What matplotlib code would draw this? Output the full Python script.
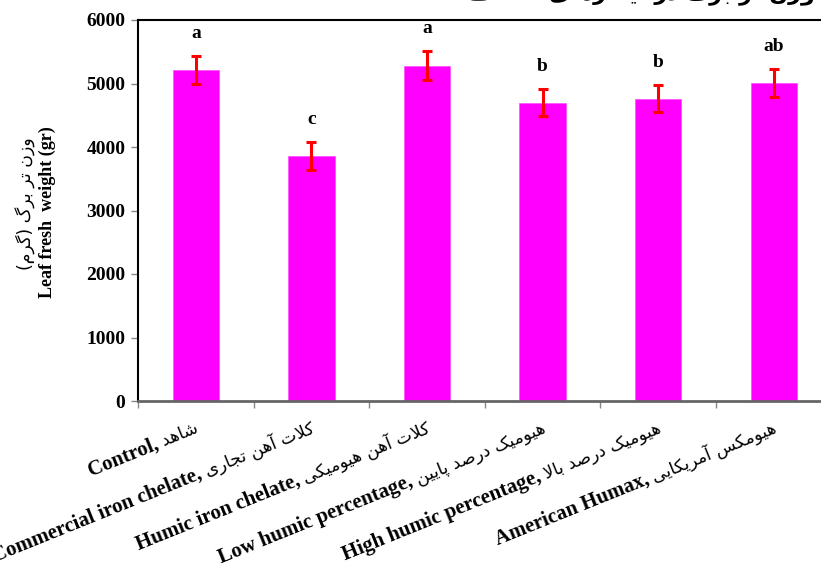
import math
import matplotlib
matplotlib.use("Agg")
import matplotlib.pyplot as plt

# treatments, mean leaf fresh weight (gr), standard error and Duncan letters
labels_en = ["Control,", "Commercial iron chelate,", "Humic iron chelate,",
             "Low humic percentage,", "High humic percentage,", "American Humax,"]
labels_fa = ["شاهد", "کلات آهن تجاری", "کلات آهن هیومیکی",
             "هیومیک درصد پایین", "هیومیک درصد بالا", "هیومکس آمریکایی"]
weights = [5210, 3860, 5280, 4700, 4760, 5010]
errors = [225, 215, 230, 215, 215, 225]
letters = ["a", "c", "a", "b", "b", "ab"]
yticks = [0, 1000, 2000, 3000, 4000, 5000, 6000]

ylabel_en = "Leaf fresh  weight (gr)"
ylabel_fa = "وزن تر برگ (گرم)"
title_fa = "وزن تر برگ در تیمارهای مختلف"

SERIF = ["Liberation Serif", "DejaVu Serif"]
FA_FONT = ["DejaVu Sans"]

# Persian letters -> (isolated, final, initial, medial) presentation forms
FORMS = {
    "ا": ("\uFE8D", "\uFE8E", None, None),
    "آ": ("\uFE81", "\uFE82", None, None),
    "ب": ("\uFE8F", "\uFE90", "\uFE91", "\uFE92"),
    "پ": ("\uFB56", "\uFB57", "\uFB58", "\uFB59"),
    "ت": ("\uFE95", "\uFE96", "\uFE97", "\uFE98"),
    "ج": ("\uFE9D", "\uFE9E", "\uFE9F", "\uFEA0"),
    "خ": ("\uFEA5", "\uFEA6", "\uFEA7", "\uFEA8"),
    "د": ("\uFEA9", "\uFEAA", None, None),
    "ر": ("\uFEAD", "\uFEAE", None, None),
    "ز": ("\uFEAF", "\uFEB0", None, None),
    "س": ("\uFEB1", "\uFEB2", "\uFEB3", "\uFEB4"),
    "ش": ("\uFEB5", "\uFEB6", "\uFEB7", "\uFEB8"),
    "ص": ("\uFEB9", "\uFEBA", "\uFEBB", "\uFEBC"),
    "ف": ("\uFED1", "\uFED2", "\uFED3", "\uFED4"),
    "ک": ("\uFB8E", "\uFB8F", "\uFB90", "\uFB91"),
    "گ": ("\uFB92", "\uFB93", "\uFB94", "\uFB95"),
    "ل": ("\uFEDD", "\uFEDE", "\uFEDF", "\uFEE0"),
    "م": ("\uFEE1", "\uFEE2", "\uFEE3", "\uFEE4"),
    "ن": ("\uFEE5", "\uFEE6", "\uFEE7", "\uFEE8"),
    "ه": ("\uFEE9", "\uFEEA", "\uFEEB", "\uFEEC"),
    "و": ("\uFEED", "\uFEEE", None, None),
    "ی": ("\uFBFC", "\uFBFD", "\uFBFE", "\uFBFF"),
}
LAM_ALEF = {"ا": ("\uFEFB", "\uFEFC"), "آ": ("\uFEF5", "\uFEF6")}
MIRROR = {"(": ")", ")": "("}


def shape_fa(text):
    """Join Persian letters and put them in visual (left-to-right) order."""
    def joins_next(c):
        return c in FORMS and FORMS[c][2] is not None

    out = []
    i = 0
    while i < len(text):
        c = text[i]
        if c not in FORMS:
            out.append(MIRROR.get(c, c))
            i += 1
            continue
        jp = i > 0 and joins_next(text[i - 1])
        if c == "ل" and i + 1 < len(text) and text[i + 1] in LAM_ALEF:
            out.append(LAM_ALEF[text[i + 1]][1 if jp else 0])
            i += 2
            continue
        jn = joins_next(c) and i + 1 < len(text) and text[i + 1] in FORMS
        iso, fin, ini, med = FORMS[c]
        out.append(med if jp and jn else ini if jn else fin if jp else iso)
        i += 1
    return "".join(reversed(out))


fig = plt.figure(figsize=(8.21, 5.69), dpi=100)
W, H = 821, 569
ax = fig.add_axes([138 / W, 168 / H, 693.6 / W, 381 / H])

x = list(range(len(weights)))
ax.bar(x, weights, width=0.4, color="#ff00ff", edgecolor="#ff55ff", linewidth=0.6, zorder=2)
ax.errorbar(x, weights, yerr=errors, fmt="none", ecolor="red",
            elinewidth=2.2, capsize=3.5, capthick=2.2, zorder=3)

for xi, w, e, let in zip(x, weights, errors, letters):
    ax.annotate(let, xy=(xi, w + e), xytext=(0, 13), textcoords="offset points",
                ha="center", va="baseline", fontsize=14, fontweight="bold",
                family=SERIF)

ax.set_xlim(-0.5, 5.5)
ax.set_ylim(0, 6000)
ax.set_yticks(yticks)
ax.set_yticklabels([str(v) for v in yticks], fontsize=14, fontweight="bold", family=SERIF)
ax.set_xticks([i - 0.5 for i in range(len(weights) + 1)])
ax.set_xticklabels([])
ax.tick_params(axis="both", direction="out", length=5, width=1, color="#888888", pad=4)

for side in ("top", "left", "right"):
    ax.spines[side].set_color("black")
    ax.spines[side].set_linewidth(1.5)
ax.spines["bottom"].set_color("#666666")
ax.spines["bottom"].set_linewidth(2)

# category labels: Persian part right-aligned at bar centre, English part before it
renderer = fig.canvas.get_renderer()
angle = 22
ca, sa = math.cos(math.radians(angle)), math.sin(math.radians(angle))
trans = ax.get_xaxis_transform()
for xi, en, fa in zip(x, labels_en, labels_fa):
    fa_vis = shape_fa(fa)
    dx, dy = 4, -31
    ax.annotate(fa_vis, xy=(xi, 0), xycoords=trans, xytext=(dx, dy),
                textcoords="offset pixels", rotation=angle, rotation_mode="anchor",
                ha="right", va="baseline", fontsize=12.5, family=FA_FONT,
                annotation_clip=False)
    probe = fig.text(0, 0, fa_vis, fontsize=12.5, family=FA_FONT)
    wfa = probe.get_window_extent(renderer).width
    probe.remove()
    L = wfa + 5
    ax.annotate(en, xy=(xi, 0), xycoords=trans, xytext=(dx - L * ca, dy - L * sa),
                textcoords="offset pixels", rotation=angle, rotation_mode="anchor",
                ha="right", va="baseline", fontsize=15, fontweight="bold",
                family=SERIF, annotation_clip=False)

# two-line y axis title
fig.text(47 / W, 1 - 212 / H, ylabel_en, rotation=90, ha="center", va="center",
         fontsize=13, fontweight="bold", family=SERIF)
fig.text(26 / W, 1 - 204 / H, shape_fa(ylabel_fa), rotation=90, ha="center",
         va="center", fontsize=12.5, family=FA_FONT)

# chart heading, sitting above the top edge
fig.text(815 / W, 1.0, shape_fa(title_fa), ha="right", va="baseline",
         fontsize=16, fontweight="bold", family=FA_FONT)

fig.savefig("out.png", dpi=100)
